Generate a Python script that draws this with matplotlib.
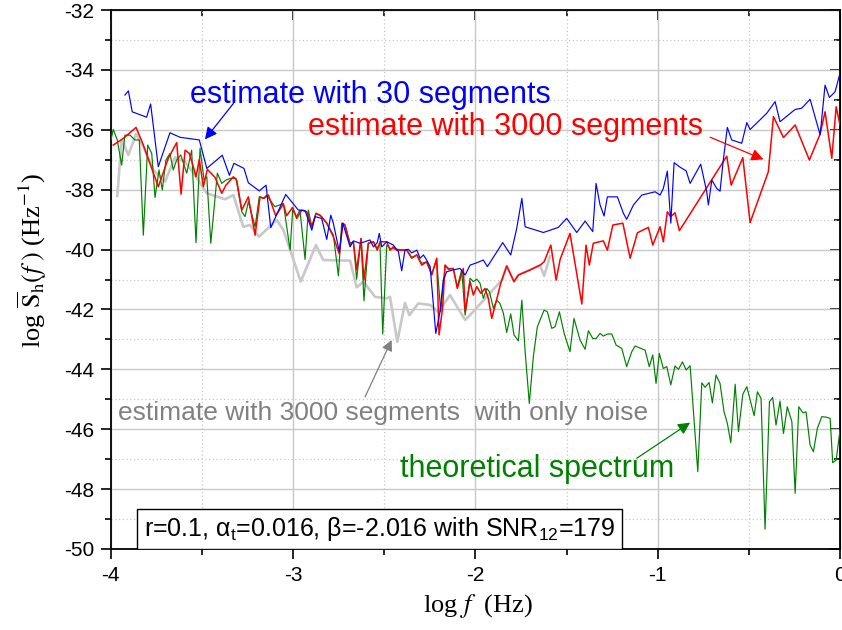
import matplotlib
matplotlib.use("Agg")
import matplotlib.pyplot as plt
from matplotlib.patches import Rectangle
import numpy as np

# ---- data (log f, log S) ----
blue_x = [-3.922, -3.903, -3.882, -3.803, -3.781, -3.739, -3.675, -3.620, -3.514, -3.473,
          -3.388, -3.349, -3.324, -3.269, -3.245, -3.185, -3.148, -3.122, -3.040, -2.971,
          -2.934, -2.897, -2.879, -2.843, -2.815, -2.793, -2.779, -2.746, -2.727, -2.687,
          -2.669, -2.632, -2.578, -2.559, -2.538, -2.527, -2.513, -2.486, -2.450, -2.422,
          -2.404, -2.386, -2.368, -2.349, -2.321, -2.303, -2.285, -2.267, -2.248, -2.217,
          -2.194, -2.176, -2.157, -2.121, -2.084, -2.056, -2.029, -1.992, -1.956, -1.934,
          -1.850, -1.806, -1.773, -1.745, -1.727, -1.627, -1.545, -1.499, -1.444, -1.398,
          -1.356, -1.338, -1.316, -1.294, -1.276, -1.221, -1.188, -1.170, -1.133, -1.087,
          -1.014, -0.987, -0.969, -0.947, -0.928, -0.910, -0.877, -0.844, -0.822, -0.764,
          -0.731, -0.722, -0.703, -0.676, -0.658, -0.640, -0.618, -0.594, -0.539, -0.511,
          -0.493, -0.402, -0.356, -0.329, -0.246, -0.210, -0.164, -0.109, -0.082, -0.058,
          -0.027, 0.0]
blue_y = [-34.84, -34.70, -35.40, -35.58, -35.14, -37.23, -36.10, -36.25, -36.34, -37.29,
          -36.85, -37.52, -37.12, -37.29, -37.77, -38.04, -37.85, -39.27, -38.16, -38.68,
          -38.70, -39.35, -38.90, -38.96, -39.66, -38.85, -39.12, -40.07, -39.12, -39.91,
          -39.71, -39.79, -39.68, -39.91, -39.77, -39.46, -39.91, -39.74, -39.85, -40.07,
          -40.71, -40.02, -39.99, -40.11, -40.02, -40.29, -40.18, -40.35, -40.57, -42.80,
          -42.08, -41.02, -40.74, -40.68, -40.63, -40.85, -40.52, -40.44, -40.35, -40.57,
          -39.77, -40.18, -39.29, -38.29, -39.24, -39.43, -39.26, -38.96, -39.43, -39.05,
          -39.40, -37.79, -38.51, -38.88, -38.24, -38.24, -38.79, -38.99, -38.51, -38.18,
          -38.07, -38.18, -37.96, -37.38, -39.12, -37.10, -37.25, -37.37, -37.79, -37.15,
          -38.07, -38.51, -37.68, -37.96, -38.05, -37.01, -35.92, -36.34, -36.45, -35.76,
          -35.99, -35.45, -35.06, -35.73, -35.32, -35.28, -34.98, -36.17, -34.51, -34.92,
          -34.73, -34.11]

red_x = [-3.986, -3.931, -3.861, -3.821, -3.739, -3.684, -3.638, -3.614, -3.592, -3.569,
         -3.547, -3.532, -3.514, -3.492, -3.470, -3.428, -3.391, -3.368, -3.327, -3.309,
         -3.281, -3.245, -3.208, -3.181, -3.159, -3.135, -3.095, -3.053, -3.035, -3.002,
         -2.980, -2.952, -2.925, -2.897, -2.874, -2.852, -2.815, -2.779, -2.746, -2.727,
         -2.715, -2.687, -2.669, -2.651, -2.627, -2.611, -2.587, -2.559, -2.538, -2.523,
         -2.486, -2.468, -2.450, -2.431, -2.376, -2.349, -2.321, -2.294, -2.267, -2.239,
         -2.212, -2.199, -2.179, -2.166, -2.148, -2.121, -2.099, -2.066, -2.056, -2.029,
         -2.011, -1.992, -1.970, -1.947, -1.929, -1.910, -1.886, -1.861, -1.828, -1.788,
         -1.764, -1.700, -1.645, -1.623, -1.586, -1.557, -1.535, -1.481, -1.416, -1.393,
         -1.375, -1.353, -1.298, -1.276, -1.246, -1.191, -1.151, -1.111, -1.051, -1.027,
         -0.987, -0.969, -0.947, -0.928, -0.905, -0.881, -0.621, -0.597, -0.533, -0.493,
         -0.393, -0.365, -0.310, -0.246, -0.168, -0.109, -0.082, -0.045, -0.021, 0.0]
red_y = [-36.51, -36.29, -35.92, -36.51, -37.90, -36.95, -36.43, -38.15, -36.68, -36.79,
         -37.23, -37.57, -36.99, -37.90, -37.32, -37.59, -38.12, -37.85, -37.57, -37.68,
         -38.68, -38.24, -39.52, -38.24, -38.29, -38.18, -38.87, -38.48, -38.87, -38.59,
         -38.96, -38.68, -38.74, -39.24, -38.79, -38.85, -39.12, -39.57, -40.15, -39.12,
         -39.18, -39.85, -39.74, -40.68, -39.63, -41.02, -39.79, -39.74, -40.02, -39.74,
         -39.74, -40.02, -39.91, -40.02, -40.02, -40.29, -40.18, -40.52, -40.41, -40.85,
         -40.29, -42.85, -41.91, -40.52, -40.66, -40.63, -41.30, -40.63, -42.08, -41.07,
         -41.52, -41.24, -41.46, -41.30, -41.63, -42.30, -41.74, -41.13, -40.55, -41.07,
         -40.85, -40.68, -40.52, -40.41, -39.85, -41.02, -40.33, -39.46, -41.82, -39.85,
         -40.52, -39.79, -39.71, -40.02, -39.18, -39.12, -40.29, -39.44, -39.26, -39.85,
         -39.24, -39.74, -38.74, -38.90, -38.77, -39.37, -36.88, -37.85, -36.93, -39.10,
         -37.40, -35.56, -36.26, -35.84, -37.01, -36.14, -35.40, -36.95, -35.23, -35.84]

gray_x = [-3.964, -3.940, -3.903, -3.861, -3.821, -3.766, -3.702, -3.647, -3.592, -3.538,
          -3.473, -3.373, -3.327, -3.273, -3.236, -3.187, -3.089, -3.053, -3.005, -2.958,
          -2.874, -2.834, -2.687, -2.651, -2.614, -2.550, -2.486, -2.468, -2.428, -2.386,
          -2.362, -2.313, -2.248, -2.203, -2.139, -2.056, -2.029, -1.855, -1.828, -1.788,
          -1.764, -1.700, -1.645, -1.623, -1.590]
gray_y = [-38.21, -36.34, -36.84, -36.14, -36.57, -37.34, -37.73, -36.92, -37.07, -37.51,
          -38.12, -38.32, -38.18, -39.24, -39.18, -39.57, -39.01, -39.35, -40.20, -41.07,
          -39.85, -40.35, -40.37, -41.26, -41.07, -41.58, -41.63, -41.58, -43.08, -41.78,
          -42.19, -41.80, -41.85, -42.08, -41.52, -42.35, -42.19, -41.02, -40.55, -41.07,
          -40.85, -40.68, -40.52, -40.88, -40.22]

green_x = [-4.000, -3.986, -3.964, -3.940, -3.922, -3.894, -3.867, -3.843, -3.821, -3.797,
           -3.775, -3.757, -3.735, -3.717, -3.697, -3.675, -3.657, -3.638, -3.616, -3.583,
           -3.556, -3.532, -3.510, -3.488, -3.473, -3.451, -3.415, -3.391, -3.368, -3.342,
           -3.313, -3.281, -3.263, -3.245, -3.208, -3.185, -3.163, -3.144, -3.126, -3.099,
           -3.053, -3.016, -3.002, -2.980, -2.962, -2.934, -2.916, -2.897, -2.874, -2.843,
           -2.815, -2.779, -2.751, -2.733, -2.715, -2.687, -2.669, -2.651, -2.627, -2.611,
           -2.587, -2.559, -2.538, -2.523, -2.508, -2.486, -2.468, -2.431, -2.376, -2.349,
           -2.321, -2.294, -2.267, -2.239, -2.212, -2.190, -2.166, -2.148, -2.121, -2.099,
           -2.075, -2.056, -2.029, -2.011, -1.992, -1.974, -1.956, -1.937, -1.923, -1.901,
           -1.883, -1.865, -1.846, -1.828, -1.806, -1.788, -1.764, -1.745, -1.727, -1.704,
           -1.682, -1.660, -1.623, -1.605, -1.581, -1.563, -1.539, -1.513, -1.481, -1.459,
           -1.426, -1.398, -1.380, -1.356, -1.338, -1.316, -1.298, -1.276, -1.252, -1.228,
           -1.197, -1.170, -1.142, -1.124, -1.069, -1.046, -1.027, -1.009, -0.991, -0.969,
           -0.950, -0.928, -0.905, -0.886, -0.864, -0.844, -0.822, -0.780, -0.758, -0.740,
           -0.718, -0.700, -0.680, -0.658, -0.636, -0.618, -0.599, -0.575, -0.557, -0.533,
           -0.511, -0.471, -0.453, -0.433, -0.411, -0.387, -0.369, -0.351, -0.329, -0.310,
           -0.289, -0.264, -0.246, -0.226, -0.204, -0.186, -0.164, -0.146, -0.124, -0.100,
           -0.073, -0.054, -0.040, -0.021, 0.0]
green_y = [-36.37, -35.99, -36.34, -37.18, -36.18, -36.18, -36.34, -36.34, -39.52, -36.51,
           -36.79, -38.26, -37.34, -38.01, -37.01, -36.79, -37.34, -37.01, -36.84, -37.45,
           -36.68, -39.77, -36.62, -37.68, -37.57, -39.79, -37.45, -37.79, -37.68, -37.62,
           -37.62, -38.74, -38.90, -38.40, -39.24, -38.24, -38.29, -38.18, -38.35, -38.57,
           -38.46, -40.02, -38.68, -38.90, -38.68, -40.33, -38.68, -39.24, -38.79, -38.90,
           -39.12, -39.51, -40.88, -39.12, -39.18, -39.79, -39.74, -40.99, -39.63, -41.71,
           -39.79, -39.74, -39.96, -39.79, -42.82, -39.85, -39.96, -39.99, -40.02, -40.26,
           -40.18, -40.46, -40.41, -40.80, -40.35, -42.08, -40.52, -40.63, -40.63, -41.24,
           -40.68, -42.19, -40.96, -41.07, -40.99, -41.13, -41.63, -41.30, -41.41, -41.96,
           -41.69, -41.80, -42.13, -42.77, -42.15, -42.85, -43.05, -41.69, -43.41, -45.14,
           -43.58, -42.58, -42.02, -42.08, -42.63, -42.58, -42.08, -42.80, -43.41, -42.30,
           -43.02, -43.33, -42.71, -42.97, -42.97, -42.80, -42.89, -42.82, -42.82, -43.19,
           -43.30, -43.91, -43.41, -43.22, -43.36, -43.91, -43.52, -44.47, -43.47, -43.97,
           -43.91, -44.52, -43.89, -44.00, -43.75, -44.02, -43.88, -47.42, -44.45, -44.60,
           -44.44, -45.12, -44.19, -44.47, -45.42, -45.80, -46.45, -44.50, -46.08, -44.83,
           -44.58, -45.55, -44.75, -44.97, -49.34, -45.08, -44.94, -45.86, -45.06, -46.14,
           -45.25, -45.75, -48.14, -45.25, -45.45, -45.42, -46.53, -46.75, -45.97, -45.58,
           -45.60, -45.64, -47.12, -47.03, -46.03]

x_ticks = [-4, -3, -2, -1, 0]
y_ticks = [-50, -48, -46, -44, -42, -40, -38, -36, -34, -32]

plt.rcParams['font.family'] = ['Liberation Sans', 'DejaVu Sans']
plt.rcParams['mathtext.fontset'] = 'custom'
plt.rcParams['mathtext.rm'] = 'Liberation Sans'
plt.rcParams['mathtext.it'] = 'Liberation Sans:italic'

fig = plt.figure(figsize=(8.42, 6.30), dpi=100)
ax = fig.add_axes([110.7 / 842, 1 - 549 / 630, (840 - 110.7) / 842, (549 - 10) / 630])

ax.plot(gray_x, gray_y, color='#c8c8c8', lw=1.9, zorder=2)
ax.plot(green_x, green_y, color='#008000', lw=0.85, zorder=3)
ax.plot(red_x, red_y, color='#ff0000', lw=1.1, zorder=4)
ax.plot(blue_x, blue_y, color='#0000ff', lw=0.85, zorder=5)

ax.set_xlim(-4, 0)
ax.set_ylim(-50, -32)
ax.set_xticks(x_ticks)
ax.set_xticklabels([str(t) for t in x_ticks])
ax.set_yticks(y_ticks)
ax.set_yticklabels([str(t) for t in y_ticks])
ax.set_xticks(np.arange(-3.5, 0, 1.0), minor=True)
ax.set_yticks(np.arange(-49, -32, 2), minor=True)

ax.grid(True, which='major', color='#c8c8c8', lw=1.0, ls='-', zorder=0)
ax.grid(True, which='minor', color='#c8c8c8', lw=0.9, ls=(0, (1, 2)), zorder=0)
ax.set_axisbelow(True)

ax.tick_params(which='both', direction='out', labelsize=15, width=1.2, color='black')
ax.tick_params(which='major', length=7)
ax.tick_params(which='minor', length=4)
ax.tick_params(axis='x', pad=5)
ax.tick_params(axis='y', pad=5)
for sp in ax.spines.values():
    sp.set_linewidth(1.3)

# inward ticks on top and right
top = ax.secondary_xaxis('top')
top.set_xticks(x_ticks)
top.set_xticks(np.arange(-3.5, 0, 1.0), minor=True)
top.tick_params(which='both', direction='in', labeltop=False, width=1.2)
top.tick_params(which='major', length=7)
top.tick_params(which='minor', length=4)
right = ax.secondary_yaxis('right')
right.set_yticks(y_ticks)
right.set_yticks(np.arange(-49, -32, 2), minor=True)
right.tick_params(which='both', direction='in', labelright=False, width=1.2)
right.tick_params(which='major', length=7)
right.tick_params(which='minor', length=4)

# annotations
ax.text(-3.566, -34.84, 'estimate with 30 segments', color='#0000ff', fontsize=22,
        ha='left', va='center', zorder=6)
ax.annotate('', xy=(-3.483, -36.32), xytext=(-3.327, -35.12),
            arrowprops=dict(arrowstyle='-|>', color='#0000ff', lw=0.9,
                            mutation_scale=18, shrinkA=0, shrinkB=0), zorder=6)

ax.text(-2.916, -35.92, 'estimate with 3000 segments', color='#ff0000', fontsize=22,
        ha='left', va='center', zorder=6)
ax.annotate('', xy=(-0.420, -36.99), xytext=(-0.712, -36.25),
            arrowprops=dict(arrowstyle='-|>', color='#ff0000', lw=0.9,
                            mutation_scale=18, shrinkA=0, shrinkB=0), zorder=6)

ax.text(-3.959, -45.45, 'estimate with 3000 segments  with only noise', color='#808080',
        fontsize=19, ha='left', va='center', zorder=6)
ax.annotate('', xy=(-2.459, -43.02), xytext=(-2.605, -44.92),
            arrowprops=dict(arrowstyle='-|>', color='#808080', lw=0.9,
                            mutation_scale=16, shrinkA=0, shrinkB=0), zorder=6)

ax.text(-2.413, -47.33, 'theoretical spectrum', color='#008000', fontsize=22,
        ha='left', va='center', zorder=6)
ax.annotate('', xy=(-0.822, -45.78), xytext=(-1.115, -46.97),
            arrowprops=dict(arrowstyle='-|>', color='#008000', lw=0.9,
                            mutation_scale=18, shrinkA=0, shrinkB=0), zorder=6)

# parameter box
box_x0 = (137 - 110.7) / 729.3
box_x1 = (622 - 110.7) / 729.3
box_h = (549 - 509) / 539
ax.add_patch(Rectangle((box_x0, 0), box_x1 - box_x0, box_h, transform=ax.transAxes,
                       facecolor='white', edgecolor='black', lw=1.0, zorder=7))
ax.text((box_x0 + box_x1) / 2, box_h / 2,
        r'r=0.1, α$_{\mathrm{t}}$=0.016, β=-2.016 with SNR$_{\mathrm{12}}$=179',
        transform=ax.transAxes, fontsize=18, ha='center', va='center', zorder=8)

# axis labels
fig.text(478 / 842, 1 - 606 / 630, r'log $f$  (Hz)', fontsize=19,
         family='Liberation Serif', math_fontfamily='stix', ha='center', va='center')
fig.text(32 / 842, 1 - 260 / 630,
         r'log $\overline{\mathrm{S}}_{\mathrm{h}}(f\;)$ (Hz$^{\mathrm{-1}}$)', fontsize=19,
         family='Liberation Serif', math_fontfamily='stix', rotation=90,
         ha='center', va='center')

fig.savefig('out.png', dpi=100)
